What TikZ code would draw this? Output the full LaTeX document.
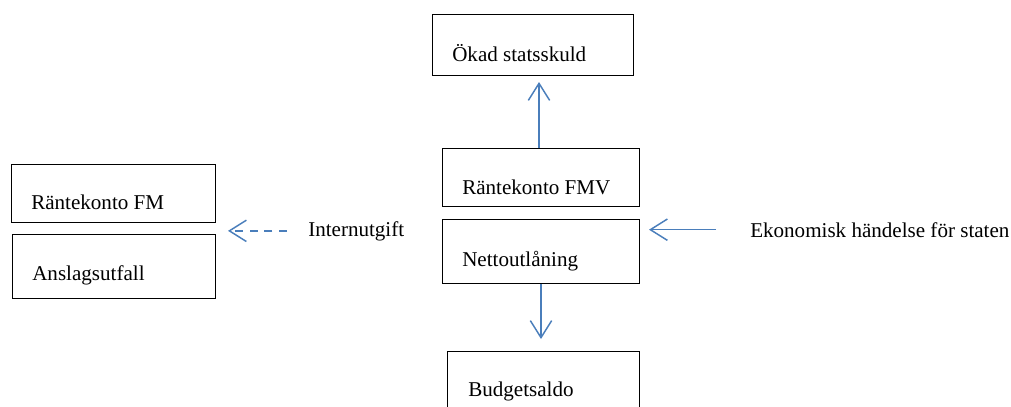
\documentclass[tikz,border=0pt]{standalone}
\usepackage{fontspec}
\setmainfont{Liberation Serif}
\usetikzlibrary{arrows.meta}
\definecolor{flowblue}{RGB}{74,126,187}
\tikzset{
    box/.style={draw=black, line width=0.75pt, inner sep=0pt, anchor=north west},
    txt/.style={inner sep=0pt, anchor=base west, font=\fontsize{15.8}{19}\selectfont},
    flow/.style={draw=flowblue, line width=1.1pt, -{Straight Barb[length=12.75pt, width=16pt, line width=1.1pt]}}
}
\begin{document}
\begin{tikzpicture}[x=0.75pt, y=-0.75pt]
    \useasboundingbox (0,0) rectangle (1011,407);
    % boxes
    \node[box, minimum width=150.75pt, minimum height=45.75pt] (okad) at (432,14) {};
    \node[box, minimum width=147.75pt, minimum height=43.5pt] (fmv) at (442,148) {};
    \node[box, minimum width=147.75pt, minimum height=48pt] (netto) at (442,219) {};
    \node[box, minimum width=144pt, minimum height=60pt] (budget) at (447,351) {};
    \node[box, minimum width=153pt, minimum height=43.5pt] (rfm) at (11,164) {};
    \node[box, minimum width=152.25pt, minimum height=48pt] (anslag) at (12,234) {};
    % texts
    \node[txt] (okadtxt) at (452,61) {Ökad statsskuld};
    \node[txt] (fmvtxt) at (462,194) {Räntekonto FMV};
    \node[txt] (nettotxt) at (462,266) {Nettoutlåning};
    \node[txt] (budgettxt) at (468,396) {Budgetsaldo};
    \node[txt] (rfmtxt) at (31,209) {Räntekonto FM};
    \node[txt] (anslagtxt) at (32,280) {Anslagsutfall};
    \node[txt] (intern) at (308,236) {Internutgift};
    \node[txt] (ekon) at (750,237) {Ekonomisk händelse för staten};
    % arrows
    \draw[flow, shorten >=4.5pt] ([xshift=-1.5pt]fmv.north) -- ([xshift=-1.5pt]fmv.north |- okad.south);
    \draw[flow, shorten >=9pt] (netto.south) -- (netto.south |- budget.north);
    \draw[flow, shorten <=25.5pt, shorten >=6.75pt] (ekon.west) -- (ekon.west -| netto.east);
    \draw[flow, dash pattern=on 6pt off 5pt, shorten <=15.75pt, shorten >=9pt] (intern.west) -- (intern.west -| rfm.east);
\end{tikzpicture}
\end{document}
